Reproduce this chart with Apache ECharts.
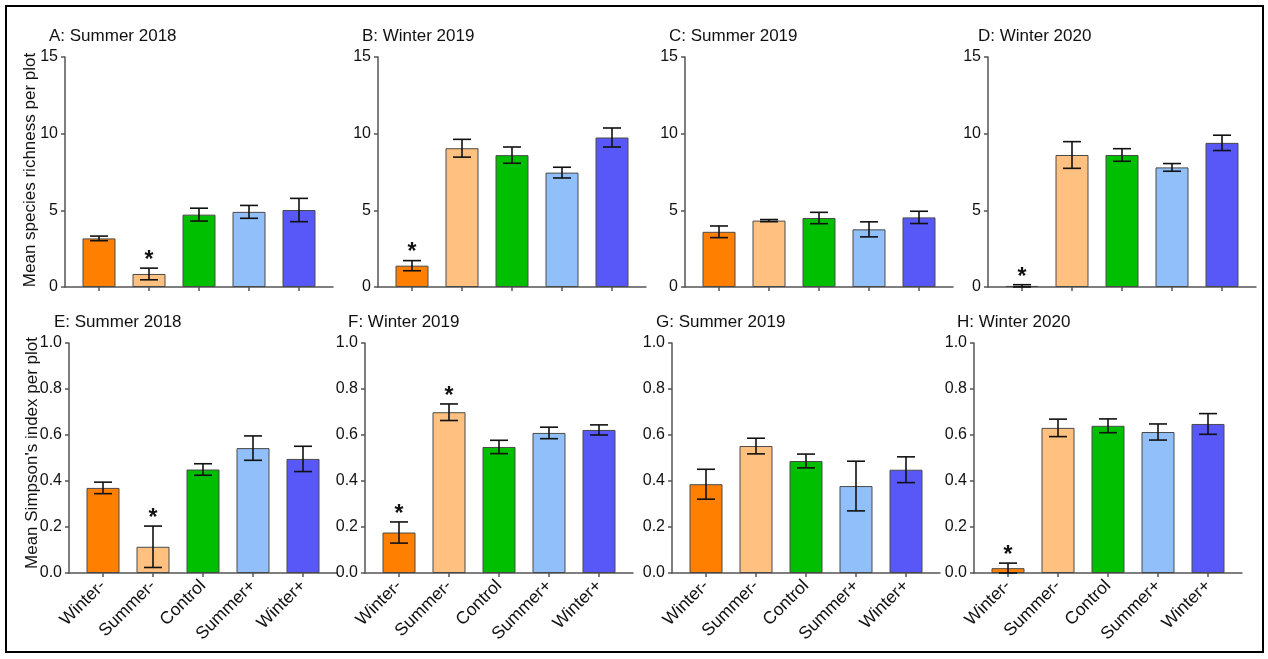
<!DOCTYPE html>
<html>
<head>
<meta charset="utf-8">
<script src="https://cdn.jsdelivr.net/npm/echarts@6/dist/echarts.min.js"></script>
<style>
html,body{margin:0;padding:0;background:#fff;}
#chart{width:1268px;height:659px;}
</style>
</head>
<body>
<div id="chart"></div>
<script>
// ---- Data ----
const categories = ['Winter-', 'Summer-', 'Control', 'Summer+', 'Winter+'];
const barColors = ['#FF8000', '#FFC080', '#00BF00', '#90BFF9', '#5858F8'];

const panelTitles = ['A: Summer 2018', 'B: Winter 2019', 'C: Summer 2019', 'D: Winter 2020',
                     'E: Summer 2018', 'F: Winter 2019', 'G: Summer 2019', 'H: Winter 2020'];

// Mean species richness per plot
const richnessSummer2018 = [3.17, 0.85, 4.72, 4.90, 5.02];
const richnessSummer2018SE = [0.15, 0.38, 0.42, 0.42, 0.76];
const richnessWinter2019 = [1.39, 9.05, 8.60, 7.46, 9.75];
const richnessWinter2019SE = [0.33, 0.58, 0.53, 0.35, 0.62];
const richnessSummer2019 = [3.60, 4.33, 4.50, 3.76, 4.54];
const richnessSummer2019SE = [0.38, 0.07, 0.37, 0.49, 0.40];
const richnessWinter2020 = [0.07, 8.61, 8.61, 7.80, 9.40];
const richnessWinter2020SE = [0.08, 0.87, 0.41, 0.25, 0.50];

// Mean Simpson's index per plot
const simpsonSummer2018 = [0.370, 0.114, 0.450, 0.543, 0.496];
const simpsonSummer2018SE = [0.025, 0.090, 0.025, 0.053, 0.055];
const simpsonWinter2019 = [0.176, 0.699, 0.548, 0.609, 0.622];
const simpsonWinter2019SE = [0.046, 0.036, 0.029, 0.025, 0.022];
const simpsonSummer2019 = [0.386, 0.552, 0.487, 0.378, 0.449];
const simpsonSummer2019SE = [0.065, 0.034, 0.030, 0.108, 0.056];
const simpsonWinter2020 = [0.021, 0.631, 0.640, 0.613, 0.648];
const simpsonWinter2020SE = [0.022, 0.038, 0.030, 0.035, 0.045];

// significance markers (1 = asterisk)
const starsA = [0, 1, 0, 0, 0];
const starsB = [1, 0, 0, 0, 0];
const starsC = [0, 0, 0, 0, 0];
const starsD = [1, 0, 0, 0, 0];
const starsE = [0, 1, 0, 0, 0];
const starsF = [1, 1, 0, 0, 0];
const starsG = [0, 0, 0, 0, 0];
const starsH = [1, 0, 0, 0, 0];

const richnessTicks = [0, 5, 10, 15];
const simpsonTicks = [0.0, 0.2, 0.4, 0.6, 0.8, 1.0];

// ---- Layout ----
const panels = [
  {means: richnessSummer2018, se: richnessSummer2018SE, stars: starsA, left: 65,  top: 57,  row: 0, tx: 49,  ty: 36},
  {means: richnessWinter2019, se: richnessWinter2019SE, stars: starsB, left: 378, top: 57,  row: 0, tx: 362, ty: 36},
  {means: richnessSummer2019, se: richnessSummer2019SE, stars: starsC, left: 685, top: 57,  row: 0, tx: 669, ty: 36},
  {means: richnessWinter2020, se: richnessWinter2020SE, stars: starsD, left: 988, top: 57,  row: 0, tx: 978, ty: 36},
  {means: simpsonSummer2018, se: simpsonSummer2018SE, stars: starsE, left: 69,  top: 343, row: 1, tx: 54,  ty: 322},
  {means: simpsonWinter2019, se: simpsonWinter2019SE, stars: starsF, left: 365, top: 343, row: 1, tx: 348, ty: 322},
  {means: simpsonSummer2019, se: simpsonSummer2019SE, stars: starsG, left: 672, top: 343, row: 1, tx: 656, ty: 322},
  {means: simpsonWinter2020, se: simpsonWinter2020SE, stars: starsH, left: 974, top: 343, row: 1, tx: 957, ty: 322}
];

const FONT = 'Liberation Sans, Arial, sans-serif';
const axisColor = '#555555';

const grid = [], xAxis = [], yAxis = [], series = [], graphic = [];

panels.forEach((p, i) => {
  grid.push({left: p.left, top: p.top, width: 268, height: 230, containLabel: false});
  xAxis.push({
    type: 'value', gridIndex: i, min: -0.68, max: 4.68,
    splitLine: {show: false},
    axisLine: {show: true, onZero: false, lineStyle: {color: axisColor, width: 1.5}},
    axisTick: {show: true, length: 4, customValues: [0, 1, 2, 3, 4], lineStyle: {color: axisColor, width: 1.5}},
    axisLabel: {
      show: p.row === 1, customValues: [0, 1, 2, 3, 4], rotate: 45, margin: 10,
      formatter: v => categories[Math.round(v)] || '',
      fontFamily: FONT, fontSize: 17.5, color: '#111'
    }
  });
  const ticks = p.row === 0 ? richnessTicks : simpsonTicks;
  yAxis.push({
    type: 'value', gridIndex: i, min: ticks[0], max: ticks[ticks.length - 1],
    interval: ticks[1] - ticks[0],
    splitLine: {show: false},
    axisLine: {show: true, onZero: false, lineStyle: {color: axisColor, width: 1.5}},
    axisTick: {show: true, length: 4, lineStyle: {color: axisColor, width: 1.5}},
    axisLabel: {
      margin: 7, fontFamily: FONT, fontSize: 16, color: '#111',
      formatter: v => p.row === 0 ? String(Math.round(v)) : v.toFixed(1)
    }
  });
  series.push({
    type: 'bar', xAxisIndex: i, yAxisIndex: i, barWidth: 33,
    data: p.means.map((m, k) => ({value: [k, m], itemStyle: {color: barColors[k]}})),
    itemStyle: {borderColor: '#4a4a4a', borderWidth: 1},
    emphasis: {disabled: true}, animation: false
  });
  series.push({
    type: 'custom', xAxisIndex: i, yAxisIndex: i, z: 5, animation: false,
    data: p.means.map((m, k) => [k, m, p.se[k], p.stars[k]]),
    encode: {x: 0, y: 1},
    renderItem: (params, api) => {
      const x = api.value(0), m = api.value(1), s = api.value(2), st = api.value(3);
      const top = api.coord([x, m + s]);
      const bot = api.coord([x, Math.max(m - s, 0)]);
      const hw = 9;
      const ls = {stroke: '#111', lineWidth: 1.6};
      const children = [
        {type: 'line', shape: {x1: top[0], y1: top[1], x2: bot[0], y2: bot[1]}, style: ls},
        {type: 'line', shape: {x1: top[0] - hw, y1: top[1], x2: top[0] + hw, y2: top[1]}, style: ls},
        {type: 'line', shape: {x1: bot[0] - hw, y1: bot[1], x2: bot[0] + hw, y2: bot[1]}, style: ls}
      ];
      if (st) {
        children.push({type: 'text', style: {x: top[0], y: top[1] + 4, text: '*', fontFamily: FONT,
          fontSize: 23, fontWeight: 'bold', fill: '#111', align: 'center', verticalAlign: 'bottom'}});
      }
      return {type: 'group', children};
    }
  });
  graphic.push({type: 'text', x: p.tx, y: p.ty,
    style: {text: panelTitles[i], fontFamily: FONT, fontSize: 17, fill: '#111', verticalAlign: 'middle', align: 'left'}});
});

graphic.push({type: 'text', x: 30, y: 170, rotation: Math.PI / 2,
  style: {text: 'Mean species richness per plot', fontFamily: FONT, fontSize: 17, fill: '#111', align: 'center', verticalAlign: 'middle'}});
graphic.push({type: 'text', x: 32, y: 453, rotation: Math.PI / 2,
  style: {text: "Mean Simpson's index per plot", fontFamily: FONT, fontSize: 17, fill: '#111', align: 'center', verticalAlign: 'middle'}});
graphic.push({type: 'rect', shape: {x: 6, y: 6, width: 1257, height: 646},
  style: {fill: 'none', stroke: '#000', lineWidth: 2}, z: 100});

const chart = echarts.init(document.getElementById('chart'), null, {renderer: 'canvas'});
chart.setOption({animation: false, backgroundColor: '#fff', grid, xAxis, yAxis, series, graphic});
</script>
</body>
</html>
